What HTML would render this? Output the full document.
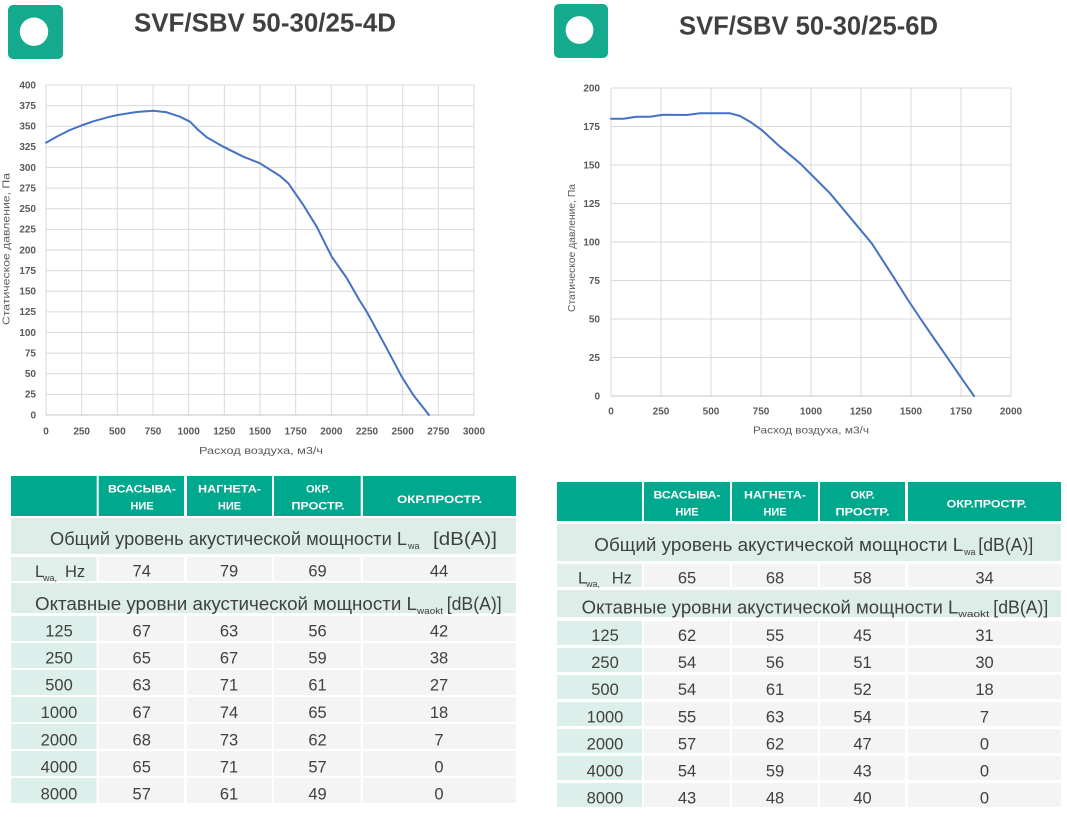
<!DOCTYPE html>
<html>
<head>
<meta charset="utf-8">
<style>
html,body{margin:0;padding:0;background:#fff;}
svg{display:block;}
.tk{font-family:"Liberation Sans",sans-serif;font-size:10px;font-weight:bold;fill:#595959;}
.at{font-family:"Liberation Sans",sans-serif;font-size:10.5px;fill:#595959;}
.ttl{font-family:"Liberation Sans",sans-serif;font-size:26px;font-weight:bold;fill:#404040;}
.hd{font-family:"Liberation Sans",sans-serif;font-size:11px;font-weight:bold;fill:#fff;}
.tv{font-family:"Liberation Sans",sans-serif;font-size:16.5px;fill:#404040;}
.sec{font-family:"Liberation Sans",sans-serif;font-size:18px;fill:#404040;}
.sub{font-family:"Liberation Sans",sans-serif;font-size:9px;fill:#404040;}
</style>
</head>
<body>
<svg width="1067" height="829" viewBox="0 0 1067 829" xmlns="http://www.w3.org/2000/svg">
<rect width="1067" height="829" fill="#fff"/>

<!-- Logos -->
<rect x="8" y="5" width="55" height="54" rx="5" fill="#13aa8e"/>
<circle cx="34" cy="31.7" r="14.2" fill="#fff"/>
<rect x="554" y="4" width="54" height="54" rx="5" fill="#13aa8e"/>
<circle cx="579.5" cy="30" r="13.9" fill="#fff"/>

<!-- Titles -->
<text class="ttl" x="134" y="31.7" textLength="262" lengthAdjust="spacingAndGlyphs">SVF/SBV 50-30/25-4D</text>
<text class="ttl" x="679" y="34.3" textLength="259" lengthAdjust="spacingAndGlyphs">SVF/SBV 50-30/25-6D</text>

<!-- LEFT CHART -->
<g stroke="#d9d9d9" stroke-width="1" fill="none">
<line x1="46" y1="85" x2="46" y2="415"/>
<line x1="81.67" y1="85" x2="81.67" y2="415"/>
<line x1="117.33" y1="85" x2="117.33" y2="415"/>
<line x1="153" y1="85" x2="153" y2="415"/>
<line x1="188.67" y1="85" x2="188.67" y2="415"/>
<line x1="224.33" y1="85" x2="224.33" y2="415"/>
<line x1="260" y1="85" x2="260" y2="415"/>
<line x1="295.67" y1="85" x2="295.67" y2="415"/>
<line x1="331.33" y1="85" x2="331.33" y2="415"/>
<line x1="367" y1="85" x2="367" y2="415"/>
<line x1="402.67" y1="85" x2="402.67" y2="415"/>
<line x1="438.33" y1="85" x2="438.33" y2="415"/>
<line x1="474" y1="85" x2="474" y2="415"/>
<line x1="46" y1="85" x2="474" y2="85"/>
<line x1="46" y1="105.63" x2="474" y2="105.63"/>
<line x1="46" y1="126.25" x2="474" y2="126.25"/>
<line x1="46" y1="146.88" x2="474" y2="146.88"/>
<line x1="46" y1="167.5" x2="474" y2="167.5"/>
<line x1="46" y1="188.13" x2="474" y2="188.13"/>
<line x1="46" y1="208.75" x2="474" y2="208.75"/>
<line x1="46" y1="229.38" x2="474" y2="229.38"/>
<line x1="46" y1="250" x2="474" y2="250"/>
<line x1="46" y1="270.63" x2="474" y2="270.63"/>
<line x1="46" y1="291.25" x2="474" y2="291.25"/>
<line x1="46" y1="311.88" x2="474" y2="311.88"/>
<line x1="46" y1="332.5" x2="474" y2="332.5"/>
<line x1="46" y1="353.13" x2="474" y2="353.13"/>
<line x1="46" y1="373.75" x2="474" y2="373.75"/>
<line x1="46" y1="394.38" x2="474" y2="394.38"/>
</g>
<line x1="46" y1="415" x2="474" y2="415" stroke="#c4c4c4" stroke-width="1"/>

<g class="tk" text-anchor="end">
<text x="36" y="418.3">0</text>
<text x="36" y="397.7">25</text>
<text x="36" y="377.1">50</text>
<text x="36" y="356.4">75</text>
<text x="36" y="335.8">100</text>
<text x="36" y="315.2">125</text>
<text x="36" y="294.6">150</text>
<text x="36" y="273.9">175</text>
<text x="36" y="253.3">200</text>
<text x="36" y="232.7">225</text>
<text x="36" y="212.1">250</text>
<text x="36" y="191.4">275</text>
<text x="36" y="170.8">300</text>
<text x="36" y="150.2">325</text>
<text x="36" y="129.6">350</text>
<text x="36" y="108.9">375</text>
<text x="36" y="88.3">400</text>
</g>
<g class="tk" text-anchor="middle">
<text x="46" y="434.5">0</text>
<text x="81.67" y="434.5">250</text>
<text x="117.33" y="434.5">500</text>
<text x="153" y="434.5">750</text>
<text x="188.67" y="434.5">1000</text>
<text x="224.33" y="434.5">1250</text>
<text x="260" y="434.5">1500</text>
<text x="295.67" y="434.5">1750</text>
<text x="331.33" y="434.5">2000</text>
<text x="367" y="434.5">2250</text>
<text x="402.67" y="434.5">2500</text>
<text x="438.33" y="434.5">2750</text>
<text x="474" y="434.5">3000</text>
</g>
<text class="at" x="261" y="454" text-anchor="middle" textLength="124" lengthAdjust="spacingAndGlyphs">Расход воздуха, м3/ч</text>
<text class="at" transform="translate(9.5,249) rotate(-90)" x="0" y="0" text-anchor="middle" textLength="152" lengthAdjust="spacingAndGlyphs">Статическое давление, Па</text>

<polyline fill="none" stroke="#4472c4" stroke-width="2" stroke-linejoin="round" stroke-linecap="round"
points="46,142.7 58,136 70,130 82.7,125 93.3,121.3 110,116.7 117.7,115 136.7,112 153.3,110.7 166.7,112.3 180,116.7 190,121.7 198.3,130 206.7,137.3 223.3,146.7 243.3,156.7 260,163.3 280,176 288.3,183.3 303.3,205 316.7,226.7 331.7,256.7 346.7,278 359.3,300 366.7,311.7 376.7,330 386.7,348.3 401.7,376.7 413.3,395 429,415"/>

<!-- RIGHT CHART -->
<g stroke="#d9d9d9" stroke-width="1" fill="none">
<line x1="611" y1="88" x2="611" y2="396"/>
<line x1="661" y1="88" x2="661" y2="396"/>
<line x1="711" y1="88" x2="711" y2="396"/>
<line x1="761" y1="88" x2="761" y2="396"/>
<line x1="811" y1="88" x2="811" y2="396"/>
<line x1="861" y1="88" x2="861" y2="396"/>
<line x1="911" y1="88" x2="911" y2="396"/>
<line x1="961" y1="88" x2="961" y2="396"/>
<line x1="1011" y1="88" x2="1011" y2="396"/>
<line x1="611" y1="88" x2="1011" y2="88"/>
<line x1="611" y1="126.5" x2="1011" y2="126.5"/>
<line x1="611" y1="165" x2="1011" y2="165"/>
<line x1="611" y1="203.5" x2="1011" y2="203.5"/>
<line x1="611" y1="242" x2="1011" y2="242"/>
<line x1="611" y1="280.5" x2="1011" y2="280.5"/>
<line x1="611" y1="319" x2="1011" y2="319"/>
<line x1="611" y1="357.5" x2="1011" y2="357.5"/>
</g>
<line x1="611" y1="396" x2="1011" y2="396" stroke="#c4c4c4" stroke-width="1"/>

<g class="tk" text-anchor="end">
<text x="600" y="399.3">0</text>
<text x="600" y="360.8">25</text>
<text x="600" y="322.3">50</text>
<text x="600" y="283.8">75</text>
<text x="600" y="245.3">100</text>
<text x="600" y="206.8">125</text>
<text x="600" y="168.3">150</text>
<text x="600" y="129.8">175</text>
<text x="600" y="91.3">200</text>
</g>
<g class="tk" text-anchor="middle">
<text x="611" y="414.5">0</text>
<text x="661" y="414.5">250</text>
<text x="711" y="414.5">500</text>
<text x="761" y="414.5">750</text>
<text x="811" y="414.5">1000</text>
<text x="861" y="414.5">1250</text>
<text x="911" y="414.5">1500</text>
<text x="961" y="414.5">1750</text>
<text x="1011" y="414.5">2000</text>
</g>
<text class="at" x="811" y="433.3" text-anchor="middle" textLength="116" lengthAdjust="spacingAndGlyphs">Расход воздуха, м3/ч</text>
<text class="at" transform="translate(575,248) rotate(-90)" x="0" y="0" text-anchor="middle" textLength="128" lengthAdjust="spacingAndGlyphs">Статическое давление, Па</text>

<polyline fill="none" stroke="#4472c4" stroke-width="2" stroke-linejoin="round" stroke-linecap="round"
points="611,118.7 623.3,118.7 636.7,116.7 650,116.7 663.3,114.7 686.7,115 700,113.3 730,113.3 740,116 750,121.7 761.7,130 780,146.7 800,163.3 811.7,175 830,193.3 846.7,213.3 871.7,243.3 893.3,276.7 908,300 920,318 933,337 946.7,356.7 960,376 974,396"/>

<!-- LEFT TABLE -->
<g fill="#00a88e">
<rect x="11" y="476" width="85.7" height="40"/>
<rect x="98.7" y="476" width="85.3" height="40"/>
<rect x="187" y="476" width="85" height="40"/>
<rect x="274" y="476" width="86.7" height="40"/>
<rect x="363" y="476" width="153" height="40"/>
</g>
<g class="hd" text-anchor="middle">
<text x="142" y="492.7" textLength="68" lengthAdjust="spacingAndGlyphs">ВСАСЫВА-</text>
<text x="142" y="509.3">НИЕ</text>
<text x="229.5" y="492.7" textLength="63" lengthAdjust="spacingAndGlyphs">НАГНЕТА-</text>
<text x="229.5" y="509.3">НИЕ</text>
<text x="318" y="492.7">ОКР.</text>
<text x="318" y="509.3" textLength="53" lengthAdjust="spacingAndGlyphs">ПРОСТР.</text>
<text x="439.5" y="503" textLength="85" lengthAdjust="spacingAndGlyphs">ОКР.ПРОСТР.</text>
</g>
<rect x="11" y="518" width="505" height="36" fill="#ddeee9"/>
<text class="sec" x="50" y="545" textLength="357" lengthAdjust="spacingAndGlyphs">Общий уровень акустической мощности L</text>
<text class="sub" x="408" y="549">wa</text>
<text class="sec" x="433" y="545" textLength="64" lengthAdjust="spacingAndGlyphs">[dB(A)]</text>

<rect x="11" y="557" width="85.7" height="24" fill="#e2f0ec"/>
<g fill="#f4f4f4">
<rect x="98.7" y="557" width="85.3" height="24"/>
<rect x="187" y="557" width="85" height="24"/>
<rect x="274" y="557" width="86.7" height="24"/>
<rect x="363" y="557" width="153" height="24"/>
</g>
<text class="tv" x="35" y="577">L</text>
<text class="sub" x="43" y="581">wa,</text>
<text class="tv" x="65" y="577">Hz</text>
<g class="tv" text-anchor="middle">
<text x="141.7" y="576.7">74</text>
<text x="229" y="576.7">79</text>
<text x="317.5" y="576.7">69</text>
<text x="439" y="576.7">44</text>
</g>

<rect x="11" y="583" width="505" height="30" fill="#ddeee9"/>
<text class="sec" x="35" y="610" textLength="382" lengthAdjust="spacingAndGlyphs">Октавные уровни акустической мощности L</text>
<text class="sub" x="417" y="614" textLength="26" lengthAdjust="spacingAndGlyphs">waokt</text>
<text class="sec" x="446.7" y="610" textLength="55" lengthAdjust="spacingAndGlyphs">[dB(A)]</text>

<g fill="#ddefea">
<rect x="11" y="616" width="85.7" height="25"/>
<rect x="11" y="643" width="85.7" height="25"/>
<rect x="11" y="670" width="85.7" height="25"/>
<rect x="11" y="697" width="85.7" height="25"/>
<rect x="11" y="724" width="85.7" height="25"/>
<rect x="11" y="751" width="85.7" height="25"/>
<rect x="11" y="778" width="85.7" height="25"/>
</g>
<g fill="#f4f4f4">
<rect x="98.7" y="616" width="85.3" height="25"/><rect x="187" y="616" width="85" height="25"/><rect x="274" y="616" width="86.7" height="25"/><rect x="363" y="616" width="153" height="25"/>
<rect x="98.7" y="643" width="85.3" height="25"/><rect x="187" y="643" width="85" height="25"/><rect x="274" y="643" width="86.7" height="25"/><rect x="363" y="643" width="153" height="25"/>
<rect x="98.7" y="670" width="85.3" height="25"/><rect x="187" y="670" width="85" height="25"/><rect x="274" y="670" width="86.7" height="25"/><rect x="363" y="670" width="153" height="25"/>
<rect x="98.7" y="697" width="85.3" height="25"/><rect x="187" y="697" width="85" height="25"/><rect x="274" y="697" width="86.7" height="25"/><rect x="363" y="697" width="153" height="25"/>
<rect x="98.7" y="724" width="85.3" height="25"/><rect x="187" y="724" width="85" height="25"/><rect x="274" y="724" width="86.7" height="25"/><rect x="363" y="724" width="153" height="25"/>
<rect x="98.7" y="751" width="85.3" height="25"/><rect x="187" y="751" width="85" height="25"/><rect x="274" y="751" width="86.7" height="25"/><rect x="363" y="751" width="153" height="25"/>
<rect x="98.7" y="778" width="85.3" height="25"/><rect x="187" y="778" width="85" height="25"/><rect x="274" y="778" width="86.7" height="25"/><rect x="363" y="778" width="153" height="25"/>
</g>
<g class="tv" text-anchor="middle">
<text x="59" y="636.5">125</text><text x="141.7" y="636.5">67</text><text x="229" y="636.5">63</text><text x="317.5" y="636.5">56</text><text x="439" y="636.5">42</text>
<text x="59" y="663.5">250</text><text x="141.7" y="663.5">65</text><text x="229" y="663.5">67</text><text x="317.5" y="663.5">59</text><text x="439" y="663.5">38</text>
<text x="59" y="690.5">500</text><text x="141.7" y="690.5">63</text><text x="229" y="690.5">71</text><text x="317.5" y="690.5">61</text><text x="439" y="690.5">27</text>
<text x="59" y="718">1000</text><text x="141.7" y="718">67</text><text x="229" y="718">74</text><text x="317.5" y="718">65</text><text x="439" y="718">18</text>
<text x="59" y="745.5">2000</text><text x="141.7" y="745.5">68</text><text x="229" y="745.5">73</text><text x="317.5" y="745.5">62</text><text x="439" y="745.5">7</text>
<text x="59" y="772.5">4000</text><text x="141.7" y="772.5">65</text><text x="229" y="772.5">71</text><text x="317.5" y="772.5">57</text><text x="439" y="772.5">0</text>
<text x="59" y="799.5">8000</text><text x="141.7" y="799.5">57</text><text x="229" y="799.5">61</text><text x="317.5" y="799.5">49</text><text x="439" y="799.5">0</text>
</g>

<!-- RIGHT TABLE -->
<g fill="#00a88e">
<rect x="557" y="482" width="85" height="39"/>
<rect x="644" y="482" width="86" height="39"/>
<rect x="732" y="482" width="86" height="39"/>
<rect x="820" y="482" width="85" height="39"/>
<rect x="908" y="482" width="153" height="39"/>
</g>
<g class="hd" text-anchor="middle">
<text x="687" y="498.3" textLength="67" lengthAdjust="spacingAndGlyphs">ВСАСЫВА-</text>
<text x="687" y="515.5">НИЕ</text>
<text x="775" y="498.3" textLength="62" lengthAdjust="spacingAndGlyphs">НАГНЕТА-</text>
<text x="775" y="515.5">НИЕ</text>
<text x="862.5" y="498.3">ОКР.</text>
<text x="862.5" y="515.5" textLength="54" lengthAdjust="spacingAndGlyphs">ПРОСТР.</text>
<text x="986.7" y="507.7" textLength="80" lengthAdjust="spacingAndGlyphs">ОКР.ПРОСТР.</text>
</g>
<rect x="557" y="524" width="504" height="37" fill="#ddeee9"/>
<text class="sec" x="594.3" y="551" textLength="369" lengthAdjust="spacingAndGlyphs">Общий уровень акустической мощности L</text>
<text class="sub" x="964" y="555">wa</text>
<text class="sec" x="978.3" y="551" textLength="55" lengthAdjust="spacingAndGlyphs">[dB(A)]</text>

<rect x="557" y="564" width="85" height="23" fill="#e2f0ec"/>
<g fill="#f4f4f4">
<rect x="644" y="564" width="86" height="23"/>
<rect x="732" y="564" width="86" height="23"/>
<rect x="820" y="564" width="85" height="23"/>
<rect x="908" y="564" width="153" height="23"/>
</g>
<text class="tv" x="578" y="583.3">L</text>
<text class="sub" x="586" y="587">wa,</text>
<text class="tv" x="611.7" y="583.3">Hz</text>
<g class="tv" text-anchor="middle">
<text x="687" y="583.3">65</text>
<text x="775" y="583.3">68</text>
<text x="862.5" y="583.3">58</text>
<text x="984.5" y="583.3">34</text>
</g>

<rect x="557" y="590" width="504" height="27" fill="#ddeee9"/>
<text class="sec" x="581.7" y="613.3" textLength="376.6" lengthAdjust="spacingAndGlyphs">Октавные уровни акустической мощности L</text>
<text class="sub" x="958.3" y="617" textLength="31" lengthAdjust="spacingAndGlyphs">waokt</text>
<text class="sec" x="993.3" y="613.3" textLength="55" lengthAdjust="spacingAndGlyphs">[dB(A)]</text>

<g fill="#ddefea">
<rect x="557" y="621" width="85" height="24"/>
<rect x="557" y="648" width="85" height="24"/>
<rect x="557" y="675" width="85" height="24"/>
<rect x="557" y="702" width="85" height="24"/>
<rect x="557" y="729" width="85" height="24"/>
<rect x="557" y="756" width="85" height="24"/>
<rect x="557" y="783" width="85" height="24"/>
</g>
<g fill="#f4f4f4">
<rect x="644" y="621" width="86" height="24"/><rect x="732" y="621" width="86" height="24"/><rect x="820" y="621" width="85" height="24"/><rect x="908" y="621" width="153" height="24"/>
<rect x="644" y="648" width="86" height="24"/><rect x="732" y="648" width="86" height="24"/><rect x="820" y="648" width="85" height="24"/><rect x="908" y="648" width="153" height="24"/>
<rect x="644" y="675" width="86" height="24"/><rect x="732" y="675" width="86" height="24"/><rect x="820" y="675" width="85" height="24"/><rect x="908" y="675" width="153" height="24"/>
<rect x="644" y="702" width="86" height="24"/><rect x="732" y="702" width="86" height="24"/><rect x="820" y="702" width="85" height="24"/><rect x="908" y="702" width="153" height="24"/>
<rect x="644" y="729" width="86" height="24"/><rect x="732" y="729" width="86" height="24"/><rect x="820" y="729" width="85" height="24"/><rect x="908" y="729" width="153" height="24"/>
<rect x="644" y="756" width="86" height="24"/><rect x="732" y="756" width="86" height="24"/><rect x="820" y="756" width="85" height="24"/><rect x="908" y="756" width="153" height="24"/>
<rect x="644" y="783" width="86" height="24"/><rect x="732" y="783" width="86" height="24"/><rect x="820" y="783" width="85" height="24"/><rect x="908" y="783" width="153" height="24"/>
</g>
<g class="tv" text-anchor="middle">
<text x="605" y="641">125</text><text x="687" y="641">62</text><text x="775" y="641">55</text><text x="862.5" y="641">45</text><text x="984.5" y="641">31</text>
<text x="605" y="668">250</text><text x="687" y="668">54</text><text x="775" y="668">56</text><text x="862.5" y="668">51</text><text x="984.5" y="668">30</text>
<text x="605" y="695">500</text><text x="687" y="695">54</text><text x="775" y="695">61</text><text x="862.5" y="695">52</text><text x="984.5" y="695">18</text>
<text x="605" y="722.3">1000</text><text x="687" y="722.3">55</text><text x="775" y="722.3">63</text><text x="862.5" y="722.3">54</text><text x="984.5" y="722.3">7</text>
<text x="605" y="749.5">2000</text><text x="687" y="749.5">57</text><text x="775" y="749.5">62</text><text x="862.5" y="749.5">47</text><text x="984.5" y="749.5">0</text>
<text x="605" y="776.5">4000</text><text x="687" y="776.5">54</text><text x="775" y="776.5">59</text><text x="862.5" y="776.5">43</text><text x="984.5" y="776.5">0</text>
<text x="605" y="803.3">8000</text><text x="687" y="803.3">43</text><text x="775" y="803.3">48</text><text x="862.5" y="803.3">40</text><text x="984.5" y="803.3">0</text>
</g>
</svg>
</body>
</html>
